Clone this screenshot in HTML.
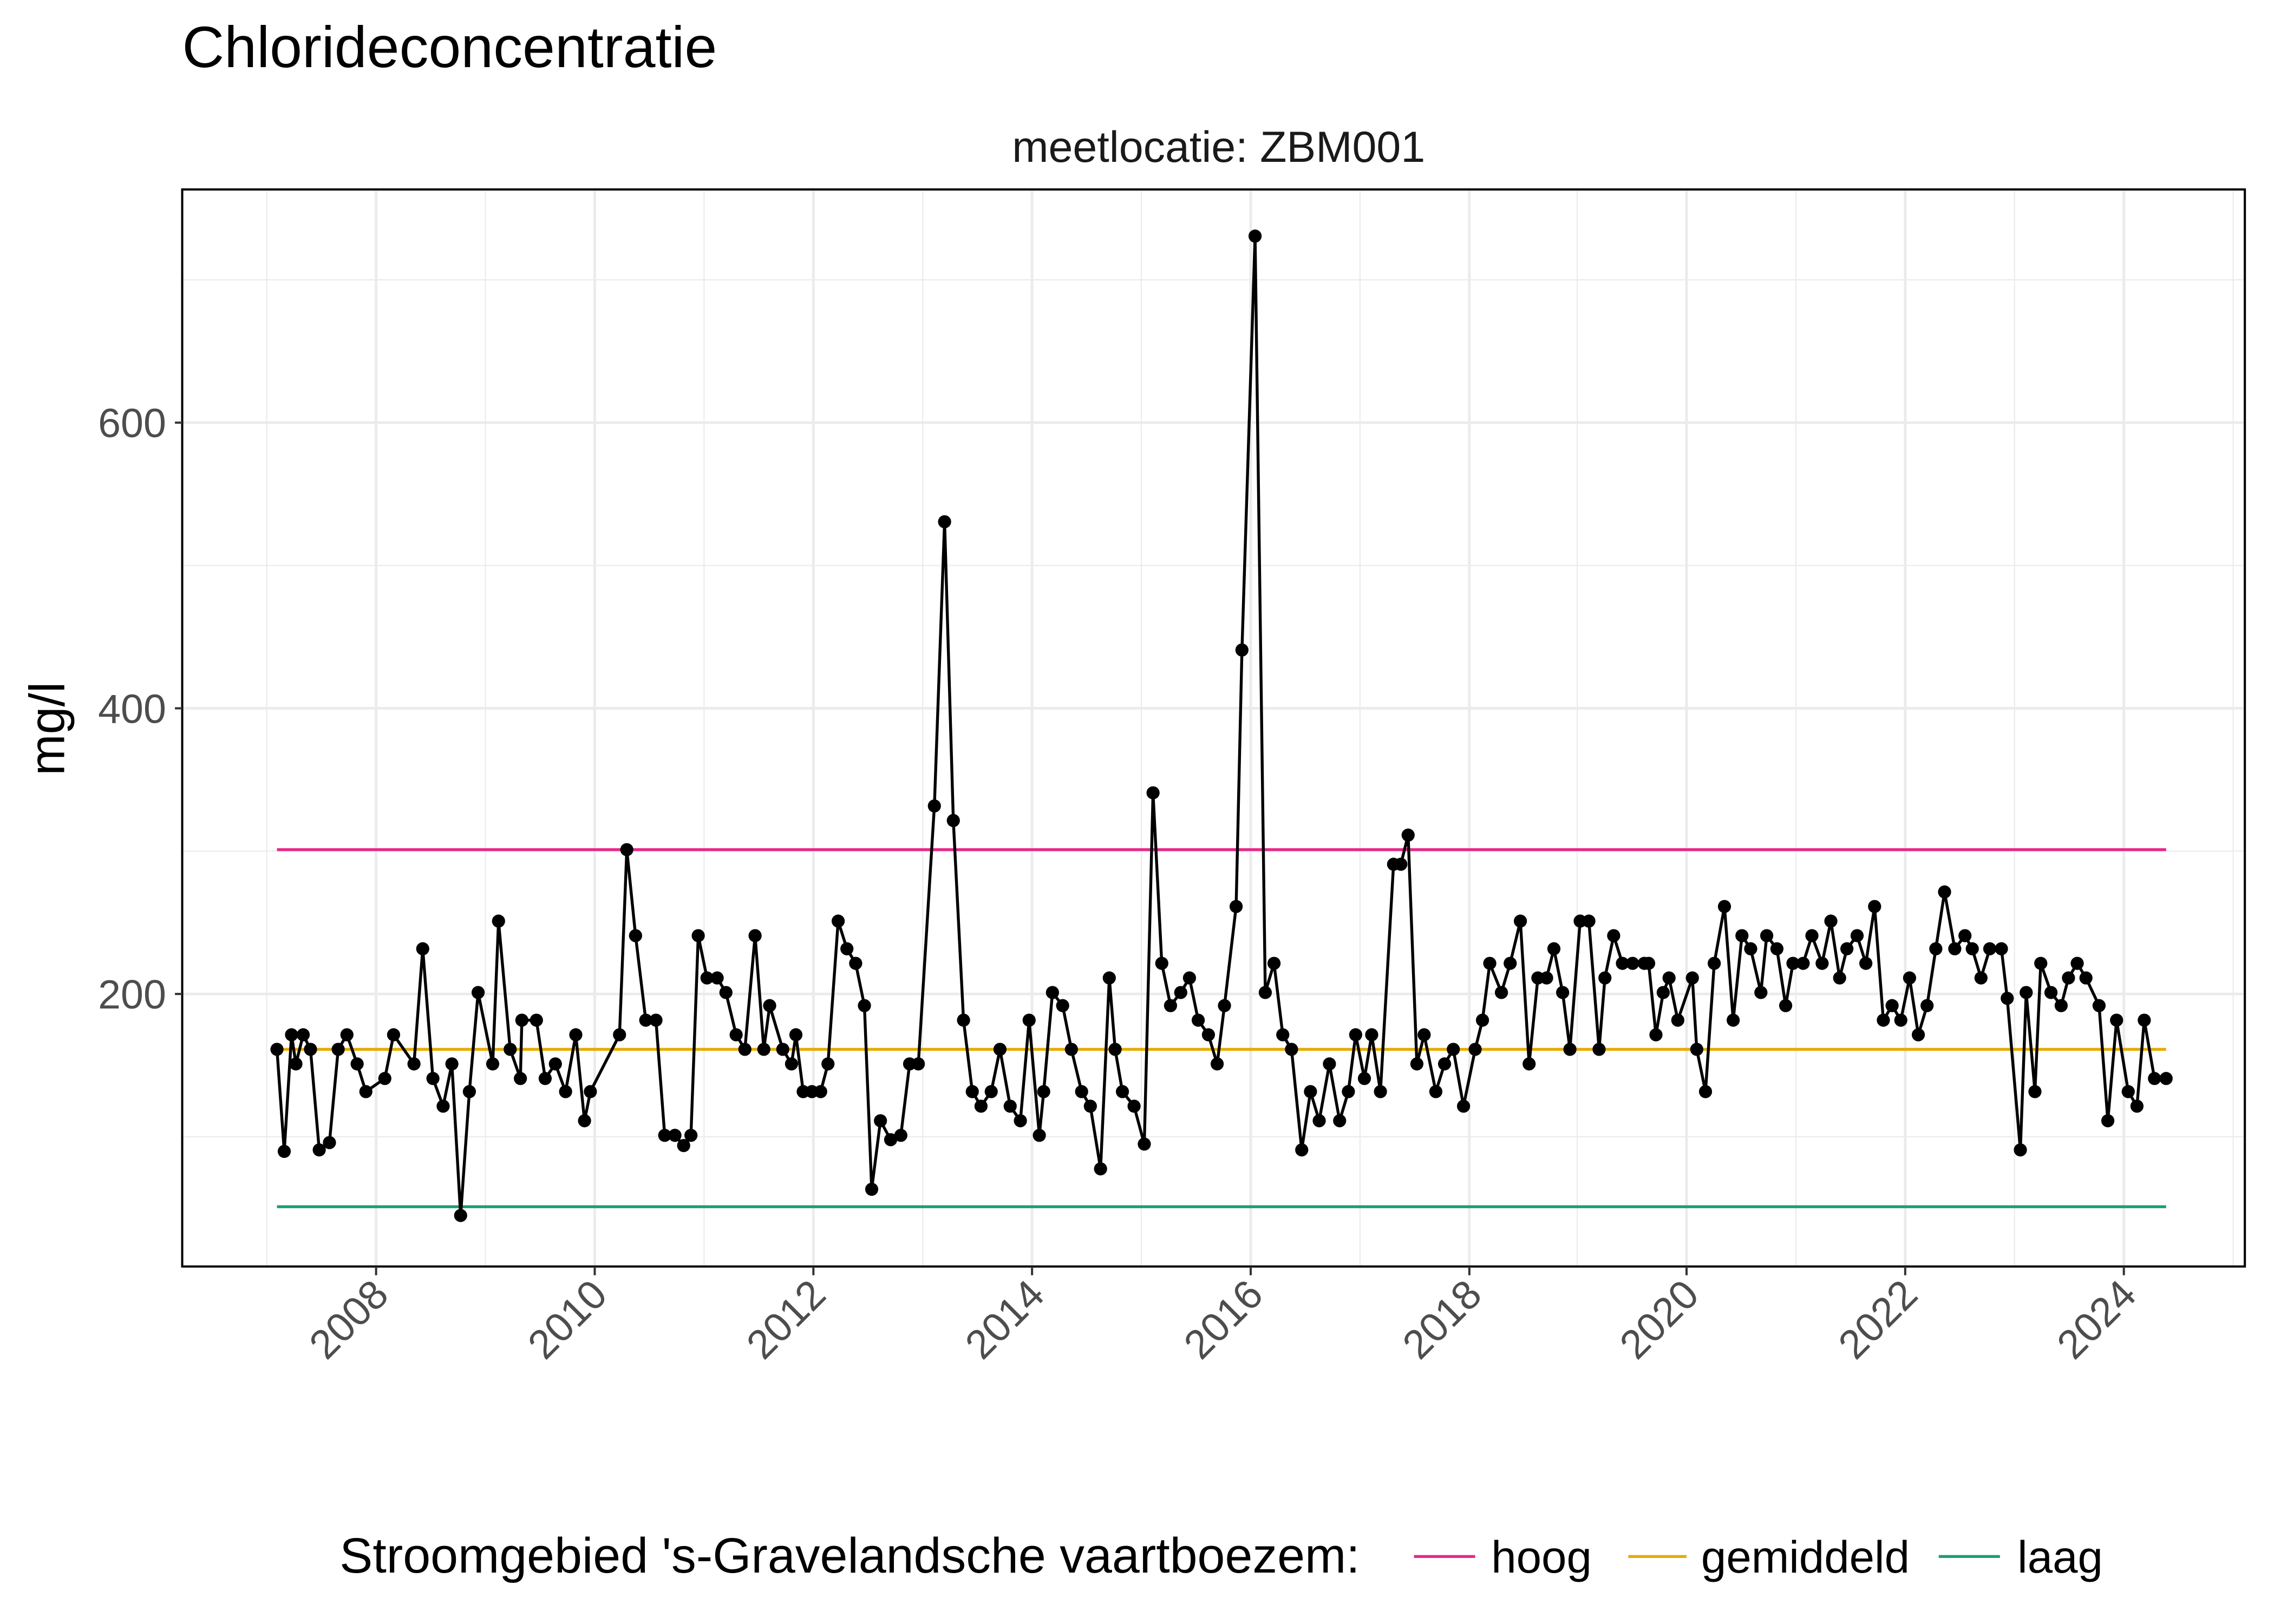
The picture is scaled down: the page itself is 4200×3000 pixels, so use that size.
<!DOCTYPE html>
<html><head><meta charset="utf-8"><style>html,body{margin:0;padding:0;background:#fff}svg{display:block}</style></head>
<body>
<svg xmlns="http://www.w3.org/2000/svg" width="4200" height="3000" viewBox="0 0 1560 1114.3" preserveAspectRatio="none" font-family="Liberation Sans, sans-serif">
<rect width="1560" height="1114.3" fill="#fff"/>
<text x="125" y="46" font-size="40" fill="#000">Chlorideconcentratie</text>
<text x="836" y="111" font-size="30" fill="#1a1a1a" text-anchor="middle">meetlocatie: ZBM001</text>
<g stroke="#ebebeb" stroke-width="0.8">
<line x1="125" x2="1540" y1="192" y2="192"/><line x1="125" x2="1540" y1="388" y2="388"/><line x1="125" x2="1540" y1="584" y2="584"/><line x1="125" x2="1540" y1="780" y2="780"/>
<line x1="183" x2="183" y1="130" y2="869"/><line x1="333" x2="333" y1="130" y2="869"/><line x1="483" x2="483" y1="130" y2="869"/><line x1="633" x2="633" y1="130" y2="869"/><line x1="783" x2="783" y1="130" y2="869"/><line x1="933" x2="933" y1="130" y2="869"/><line x1="1082" x2="1082" y1="130" y2="869"/><line x1="1232" x2="1232" y1="130" y2="869"/><line x1="1382" x2="1382" y1="130" y2="869"/><line x1="1532" x2="1532" y1="130" y2="869"/>
</g>
<g stroke="#ebebeb" stroke-width="1.8">
<line x1="125" x2="1540" y1="290" y2="290"/><line x1="125" x2="1540" y1="486" y2="486"/><line x1="125" x2="1540" y1="682" y2="682"/>
<line x1="258" x2="258" y1="130" y2="869"/><line x1="408" x2="408" y1="130" y2="869"/><line x1="558" x2="558" y1="130" y2="869"/><line x1="708" x2="708" y1="130" y2="869"/><line x1="858" x2="858" y1="130" y2="869"/><line x1="1008" x2="1008" y1="130" y2="869"/><line x1="1157" x2="1157" y1="130" y2="869"/><line x1="1307" x2="1307" y1="130" y2="869"/><line x1="1457" x2="1457" y1="130" y2="869"/>
</g>
<line x1="190" x2="1486" y1="583" y2="583" stroke="#e7298a" stroke-width="2"/>
<line x1="190" x2="1486" y1="720" y2="720" stroke="#e6ab02" stroke-width="2"/>
<line x1="190" x2="1486" y1="828" y2="828" stroke="#1b9e77" stroke-width="2"/>
<g id="d">
<polyline fill="none" stroke="#000" stroke-width="2" points="190,720 195,790 200,710 203,730 208,710 213,720 219,789 226,784 232,720 238,710 245,730 251,749 264,740 270,710 284,730 290,651 297,740 304,759 310,730 316,834 322,749 328,681 338,730 342,632 350,720 357,740 358,700 368,700 374,740 381,730 388,749 395,710 401,769 405,749 425,710 430,583 436,642 443,700 450,700 456,779 463,779 469,786 474,779 479,642 485,671 492,671 498,681 505,710 511,720 518,642 524,720 528,690 537,720 543,730 546,710 551,749 557,749 563,749 568,730 575,632 581,651 587,661 593,690 598,816 604,769 611,782 618,779 624,730 630,730 641,553 648,358 654,563 661,700 667,749 673,759 680,749 686,720 693,759 700,769 706,700 713,779 716,749 722,681 729,690 735,720 742,749 748,759 755,802 761,671 765,720 770,749 778,759 785,785 791,544 797,661 803,690 810,681 816,671 822,700 829,710 835,730 840,690 848,622 852,446 861,162 868,681 874,661 880,710 886,720 893,789 899,749 905,769 912,730 919,769 925,749 930,710 936,740 941,710 947,749 956,593 961,593 966,573 972,730 977,710 985,749 991,730 997,720 1004,759 1012,720 1017,700 1022,661 1030,681 1036,661 1043,632 1049,730 1055,671 1061,671 1066,651 1072,681 1077,720 1084,632 1090,632 1097,720 1101,671 1107,642 1113,661 1120,661 1128,661 1131,661 1136,710 1141,681 1145,671 1151,700 1161,671 1164,720 1170,749 1176,661 1183,622 1189,700 1195,642 1201,651 1208,681 1212,642 1219,651 1225,690 1230,661 1237,661 1243,642 1250,661 1256,632 1262,671 1267,651 1274,642 1280,661 1286,622 1292,700 1298,690 1304,700 1310,671 1316,710 1322,690 1328,651 1334,612 1341,651 1348,642 1353,651 1359,671 1365,651 1373,651 1377,685 1386,789 1390,681 1396,749 1400,661 1407,681 1414,690 1419,671 1425,661 1431,671 1440,690 1446,769 1452,700 1460,749 1466,759 1471,700 1478,740 1486,740"/>
</g>
<g fill="#000" id="pts">
</g>
<rect x="125" y="130" width="1415" height="739" fill="none" stroke="#000" stroke-width="1.5"/>
<g stroke="#333" stroke-width="1.5">
<line x1="120" x2="125" y1="290" y2="290"/><line x1="120" x2="125" y1="486" y2="486"/><line x1="120" x2="125" y1="682" y2="682"/>
<line x1="258" x2="258" y1="869" y2="875"/><line x1="408" x2="408" y1="869" y2="875"/><line x1="558" x2="558" y1="869" y2="875"/><line x1="708" x2="708" y1="869" y2="875"/><line x1="858" x2="858" y1="869" y2="875"/><line x1="1008" x2="1008" y1="869" y2="875"/><line x1="1157" x2="1157" y1="869" y2="875"/><line x1="1307" x2="1307" y1="869" y2="875"/><line x1="1457" x2="1457" y1="869" y2="875"/>
</g>
<g font-size="28" fill="#4d4d4d" text-anchor="end">
<text x="114" y="300">600</text><text x="114" y="496">400</text><text x="114" y="692">200</text>
<text transform="translate(268,890) rotate(-45)">2008</text>
<text transform="translate(418,890) rotate(-45)">2010</text>
<text transform="translate(568,890) rotate(-45)">2012</text>
<text transform="translate(718,890) rotate(-45)">2014</text>
<text transform="translate(868,890) rotate(-45)">2016</text>
<text transform="translate(1018,890) rotate(-45)">2018</text>
<text transform="translate(1167,890) rotate(-45)">2020</text>
<text transform="translate(1317,890) rotate(-45)">2022</text>
<text transform="translate(1467,890) rotate(-45)">2024</text>
</g>
<text transform="translate(44,500) rotate(-90)" font-size="34" text-anchor="middle" fill="#000">mg/l</text>
<text x="233" y="1079" font-size="34" fill="#000">Stroomgebied 's-Gravelandsche vaartboezem:</text>
<line x1="970" x2="1012" y1="1068" y2="1068" stroke="#e7298a" stroke-width="2"/>
<text x="1023" y="1079" font-size="31">hoog</text>
<line x1="1117" x2="1157" y1="1068" y2="1068" stroke="#e6ab02" stroke-width="2"/>
<text x="1167" y="1079" font-size="31">gemiddeld</text>
<line x1="1330" x2="1372" y1="1068" y2="1068" stroke="#1b9e77" stroke-width="2"/>
<text x="1384" y="1079" font-size="31">laag</text>
</svg>
<script>
(function(){var pl=document.querySelector('#d polyline');var g=document.getElementById('pts');var p=pl.getAttribute('points').trim().split(/\s+/);p.forEach(function(s){var a=s.split(',');var c=document.createElementNS('http://www.w3.org/2000/svg','circle');c.setAttribute('cx',a[0]);c.setAttribute('cy',a[1]);c.setAttribute('r','4.5');g.appendChild(c);});})();
</script>
</body></html>
